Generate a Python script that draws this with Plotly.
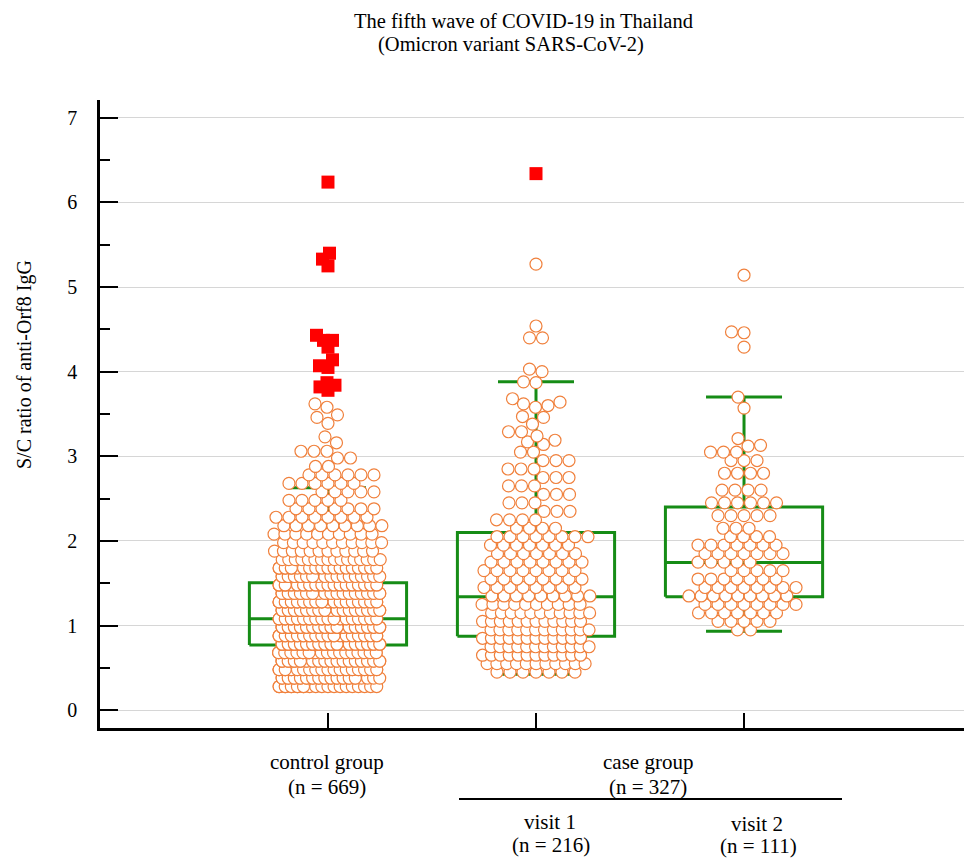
import numpy as np
import plotly.graph_objects as go

# ---------------- data ----------------
group_names = ["control group", "visit 1", "visit 2"]
group_x = [0, 1, 2]

box_q1 = [0.77, 0.875, 1.34]
box_median = [1.08, 1.34, 1.745]
box_q3 = [1.505, 2.10, 2.40]
whisker_low = [0.264, 0.425, 0.934]
whisker_high = [2.63, 3.88, 3.70]

# control group (n = 669): circles
ctrl_vals = [0.28, 0.38, 0.48, 0.58, 0.68, 0.78, 0.88, 0.98, 1.08, 1.18, 1.28, 1.38,
             1.48, 1.58, 1.68, 1.78, 1.88, 1.98, 2.08, 2.18, 2.28, 2.38, 2.48, 2.58,
             2.68, 2.78, 2.88, 2.98, 3.06, 3.16, 3.23, 3.39, 3.46, 3.49, 3.58, 3.62]
ctrl_counts = [22, 30, 36, 38, 40, 44, 44, 44, 44, 42, 42, 40,
               36, 23, 20, 16, 12, 11, 10, 9, 8, 7, 5, 5,
               6, 6, 2, 2, 3, 1, 1, 1, 1, 1, 1, 1]
# control group far-out values (red squares)
ctrl_far_vals = [3.78, 3.82, 3.84, 3.87, 4.05, 4.07, 4.14, 4.29, 4.37, 4.43, 5.25, 5.33, 5.40, 6.24]
ctrl_far_counts = [1, 1, 1, 1, 1, 1, 1, 1, 2, 1, 1, 1, 1, 1]

# case group, visit 1 (n = 216)
v1_vals = [0.45, 0.55, 0.65, 0.75, 0.85, 0.95, 1.05, 1.15, 1.25, 1.35, 1.45, 1.55,
           1.65, 1.75, 1.85, 1.95, 2.05, 2.15, 2.25, 2.35, 2.45, 2.55, 2.65, 2.75,
           2.85, 2.95, 3.05, 3.14, 3.17, 3.19, 3.24, 3.29, 3.38, 3.46, 3.47, 3.58,
           3.60, 3.62, 3.64, 3.68, 3.87, 3.88, 4.00, 4.03, 4.40, 4.54, 5.27]
v1_counts = [7, 11, 12, 12, 12, 12, 12, 11, 10, 9, 8, 8,
             8, 8, 7, 7, 8, 4, 4, 3, 3, 3, 3, 3,
             3, 3, 2, 1, 1, 1, 1, 2, 1, 1, 1, 1,
             1, 1, 1, 1, 1, 1, 1, 1, 2, 1, 1]
v1_far_vals = [6.34]
v1_far_counts = [1]

# case group, visit 2 (n = 111)
v2_vals = [0.95, 1.05, 1.15, 1.25, 1.35, 1.45, 1.55, 1.65, 1.75, 1.85, 1.95, 2.05,
           2.15, 2.30, 2.45, 2.60, 2.80, 2.95, 3.05, 3.12, 3.13, 3.21, 3.57, 3.70,
           4.29, 4.46, 4.47, 5.14]
v2_counts = [2, 5, 7, 8, 9, 8, 7, 5, 5, 7, 7, 4,
             3, 5, 6, 4, 4, 3, 3, 1, 1, 1, 1, 1,
             1, 1, 1, 1]
v2_far_vals = []
v2_far_counts = []

title_lines = ["The fifth wave of COVID-19 in Thailand", "(Omicron variant SARS-CoV-2)"]
y_title = "S/C ratio of anti-Orf8 IgG"

# ---------------- styling / geometry ----------------
PAGE_OFF = 8                     # default body margin of the page
W, H = 972 - PAGE_OFF, 858 - PAGE_OFF
PLOT_L, PLOT_R, PLOT_T, PLOT_B = 100, 972, 100, 728   # plot area in page pixels
ML, MT = PLOT_L - PAGE_OFF, PLOT_T - PAGE_OFF
MR = W - (PLOT_R - PAGE_OFF)
MB = H - (PLOT_B - PAGE_OFF)
PLOT_W = PLOT_R - PLOT_L
PLOT_H = PLOT_B - PLOT_T
X_RANGE = [-1.096, 3.096]
Y_RANGE = [-0.21, 7.21]
PX_X = PLOT_W / (X_RANGE[1] - X_RANGE[0])
PX_Y = PLOT_H / (Y_RANGE[1] - Y_RANGE[0])

FONT = "Liberation Serif"
GREEN = "#168c16"
ORANGE = "#f0803c"
RED = "#ff0000"
D = 13.0       # marker diameter in px
D_FAR = 9.0    # far-out squares are allowed to overlap more
MAXW = 98.0    # max spread of marker centres in px
MINSP = 6.1


def swarm(entries):
    """entries: list of (value, count, kind). Returns list of (x_px_offset, value, kind)."""
    placed = []
    out = []
    for v, n, kind in sorted(entries, key=lambda e: e[0]):
        dd = D_FAR if kind == "f" else D
        y = v * PX_Y
        sp = dd if n == 1 else min(dd, max(MINSP, MAXW / (n - 1)))
        slots = min(n, int(MAXW / sp + 1e-9) + 1)
        half = (slots - 1) * sp / 2
        base = np.array([-half + i * sp for i in range(slots)])
        room = MAXW / 2 - half
        if n > 1:
            room = max(room, sp / 2)
        room = max(room, 0.0)
        cands = np.arange(-room, room + 0.01, 0.5) if room > 0 else np.array([0.0])
        P = np.array(placed) if placed else np.zeros((0, 2))
        near = P[np.abs(P[:, 1] - y) < dd] if len(P) else P
        best, bestc = None, 0.0
        for c in cands:
            xs = base + c
            pen = 0.0
            if len(near):
                dx = xs[:, None] - near[None, :, 0]
                dy = y - near[None, :, 1]
                d = np.sqrt(dx ** 2 + dy ** 2)
                pen = float(np.sum(np.clip(dd - d, 0, None) ** 2))
            pen += 0.03 * c * c
            if best is None or pen < best - 1e-9:
                best, bestc = pen, c
        xs = base + bestc
        for i in range(n):
            x = xs[i % slots]
            out.append((x, v, kind))
            placed.append((x, y))
    return out


fig = go.Figure()

# boxes (drawn first, below the points)
BOX_HW = 78.6 / PX_X
CAP_HW = 38.0 / PX_X
for gx, q1, md, q3, lo, hi in zip(group_x, box_q1, box_median, box_q3, whisker_low, whisker_high):
    xs = [gx - BOX_HW, gx + BOX_HW, gx + BOX_HW, gx - BOX_HW, gx - BOX_HW, None,
          gx - BOX_HW, gx + BOX_HW, None,
          gx, gx, None, gx, gx, None,
          gx - CAP_HW, gx + CAP_HW, None, gx - CAP_HW, gx + CAP_HW]
    ys = [q1, q1, q3, q3, q1, None,
          md, md, None,
          q3, hi, None, q1, lo, None,
          hi, hi, None, lo, lo]
    fig.add_trace(go.Scatter(x=xs, y=ys, mode="lines", line=dict(color=GREEN, width=3),
                             hoverinfo="skip", showlegend=False))

groups = [
    (ctrl_vals, ctrl_counts, ctrl_far_vals, ctrl_far_counts),
    (v1_vals, v1_counts, v1_far_vals, v1_far_counts),
    (v2_vals, v2_counts, v2_far_vals, v2_far_counts),
]
for gx, (vals, cnts, fvals, fcnts) in zip(group_x, groups):
    entries = [(v, n, "c") for v, n in zip(vals, cnts)] + [(v, n, "f") for v, n in zip(fvals, fcnts)]
    pts = swarm(entries)
    cx = [gx + p[0] / PX_X for p in pts if p[2] == "c"]
    cy = [p[1] for p in pts if p[2] == "c"]
    fx = [gx + p[0] / PX_X for p in pts if p[2] == "f"]
    fy = [p[1] for p in pts if p[2] == "f"]
    fig.add_trace(go.Scatter(x=cx, y=cy, mode="markers",
                             marker=dict(symbol="circle", size=12, color="white",
                                         line=dict(color=ORANGE, width=1.2)),
                             hoverinfo="y", showlegend=False))
    if fx:
        fig.add_trace(go.Scatter(x=fx, y=fy, mode="markers",
                                 marker=dict(symbol="square", size=13, color=RED,
                                             line=dict(width=0)),
                                 hoverinfo="y", showlegend=False))

fig.update_layout(
    width=W, height=H,
    margin=dict(l=ML, r=MR, t=MT, b=MB, pad=0),
    paper_bgcolor="white", plot_bgcolor="white",
    font=dict(family=FONT, size=20, color="black"),
    showlegend=False,
)
fig.update_xaxes(range=X_RANGE, tickvals=group_x, ticks="inside", ticklen=15, tickwidth=2,
                 tickcolor="black", showticklabels=False, showline=True, linewidth=2.5,
                 linecolor="black", showgrid=False, zeroline=False)
fig.update_yaxes(range=Y_RANGE, tick0=0, dtick=1, ticks="inside", ticklen=18, tickwidth=2,
                 tickcolor="black", showline=True, linewidth=2.5, linecolor="black",
                 showgrid=True, gridcolor="#d6d6d6", gridwidth=1, zeroline=False,
                 ticklabelstandoff=16, tickfont=dict(family=FONT, size=20),
                 minor=dict(ticks="inside", ticklen=10, tickwidth=1.5, tickcolor="black",
                            dtick=0.5, tick0=0, showgrid=False))


def ypx_to_paper(ypx):
    return (PLOT_B - ypx) / PLOT_H


def xpx_to_paper(xpx):
    return (xpx - PLOT_L) / PLOT_W


ann = []
ann.append(dict(text=title_lines[0], x=xpx_to_paper(523), y=ypx_to_paper(21), size=20.5))
ann.append(dict(text=title_lines[1], x=xpx_to_paper(511), y=ypx_to_paper(44), size=20.5))
ann.append(dict(text=y_title, x=xpx_to_paper(24), y=ypx_to_paper(365), textangle=-90, size=20))
ann.append(dict(text="control group", x=xpx_to_paper(327), y=ypx_to_paper(762), size=21))
ann.append(dict(text="(n = 669)", x=xpx_to_paper(327), y=ypx_to_paper(787), size=21))
ann.append(dict(text="case group", x=xpx_to_paper(648), y=ypx_to_paper(762), size=21))
ann.append(dict(text="(n = 327)", x=xpx_to_paper(648), y=ypx_to_paper(787), size=21))
ann.append(dict(text="visit 1", x=xpx_to_paper(550), y=ypx_to_paper(822), size=21))
ann.append(dict(text="(n = 216)", x=xpx_to_paper(551), y=ypx_to_paper(845), size=21))
ann.append(dict(text="visit 2", x=xpx_to_paper(757), y=ypx_to_paper(824), size=21))
ann.append(dict(text="(n = 111)", x=xpx_to_paper(758), y=ypx_to_paper(846), size=21))
annotations = []
for a in ann:
    size = a.pop("size")
    a.update(xref="paper", yref="paper", showarrow=False, xanchor="center", yanchor="middle",
             font=dict(family=FONT, size=size, color="black"))
    annotations.append(a)
fig.update_layout(annotations=annotations)

fig.add_shape(type="line", xref="paper", yref="paper",
              x0=xpx_to_paper(459), x1=xpx_to_paper(842),
              y0=ypx_to_paper(799), y1=ypx_to_paper(799),
              line=dict(color="black", width=2))

fig.write_html("out.html")
